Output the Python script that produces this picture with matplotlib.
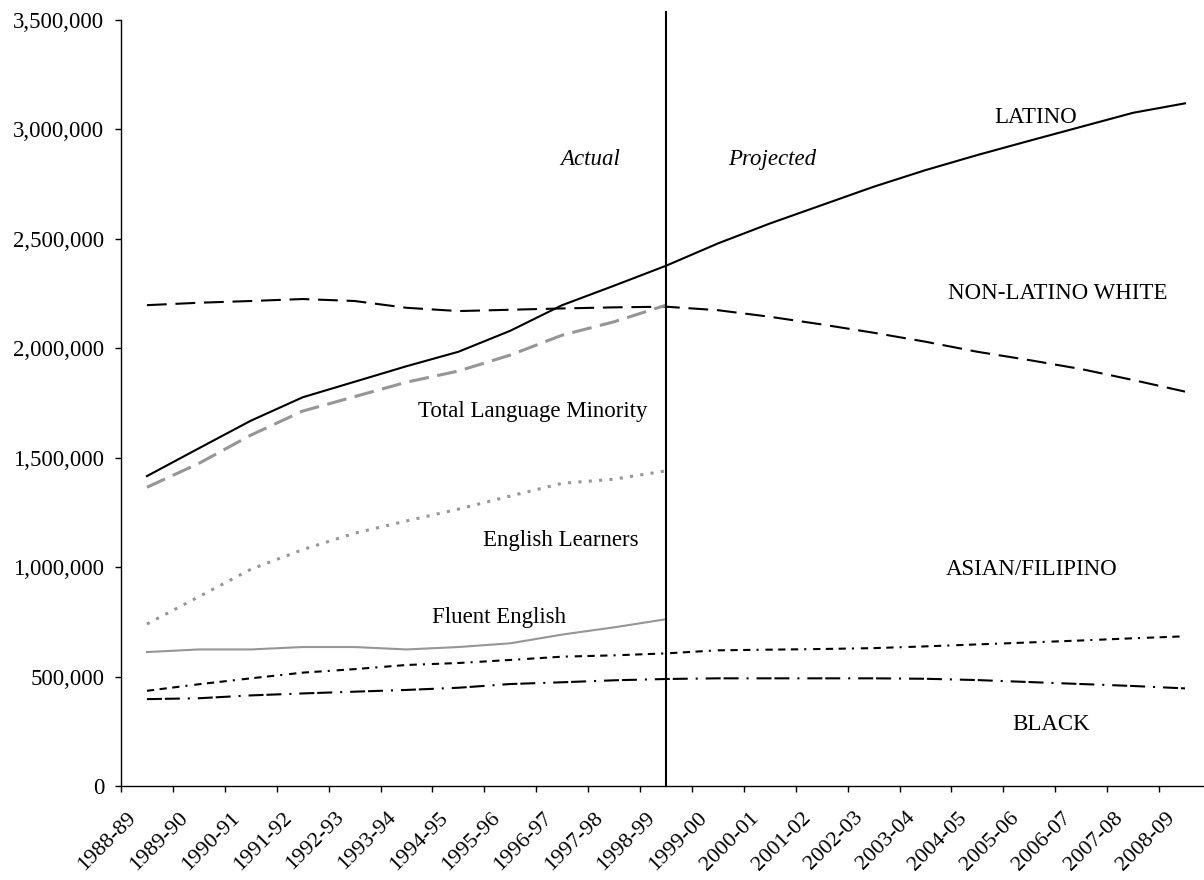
import matplotlib
matplotlib.use('Agg')
import matplotlib.pyplot as plt
import matplotlib.transforms as mtransforms
from matplotlib.ticker import FuncFormatter, FixedLocator

plt.rcParams['font.family'] = ['Liberation Serif', 'DejaVu Serif']
plt.rcParams['font.size'] = 16.5

years = ['1988-89', '1989-90', '1990-91', '1991-92', '1992-93', '1993-94',
         '1994-95', '1995-96', '1996-97', '1997-98', '1998-99', '1999-00',
         '2000-01', '2001-02', '2002-03', '2003-04', '2004-05', '2005-06',
         '2006-07', '2007-08', '2008-09']

# ethnic groups, actual + projected
latino = [1416000, 1543000, 1669000, 1776000, 1847000, 1918000, 1984000,
          2080000, 2197000, 2286000, 2377000, 2479000, 2570000, 2654000,
          2738000, 2814000, 2883000, 2948000, 3012000, 3076000, 3119000]
non_latino_white = [2197000, 2208000, 2216000, 2225000, 2216000, 2185000,
                    2170000, 2176000, 2182000, 2187000, 2190000, 2174000,
                    2144000, 2109000, 2071000, 2030000, 1984000, 1946000,
                    1905000, 1855000, 1802000]
asian_filipino = [435000, 465000, 492000, 518000, 534000, 553000, 562000,
                  576000, 591000, 597000, 606000, 620000, 623000, 626000,
                  630000, 638000, 647000, 656000, 665000, 675000, 684000]
black = [397000, 401000, 414000, 423000, 431000, 439000, 449000, 466000,
         474000, 483000, 489000, 492000, 492000, 492000, 492000, 490000,
         484000, 475000, 466000, 457000, 446000]

# language groups, actual only (1988-89 .. 1998-99)
total_lang_minority = [1365000, 1474000, 1603000, 1713000, 1779000, 1845000,
                       1896000, 1969000, 2060000, 2121000, 2197000]
english_learners = [740000, 865000, 990000, 1080000, 1155000, 1211000,
                    1265000, 1325000, 1383000, 1402000, 1440000]
fluent_english = [612000, 624000, 624000, 635000, 635000, 624000, 635000,
                  652000, 692000, 725000, 762000]

gray = '#969696'

fig = plt.figure(figsize=(12.04, 8.80), dpi=100)
ax = fig.add_axes([0.1005, 0.1068, 0.9053, 0.8705])

x_all = list(range(len(years)))
x_act = list(range(len(total_lang_minority)))

ax.plot(x_all, latino, color='black', lw=1.5, solid_joinstyle='round')
ax.plot(x_all, non_latino_white, color='black', lw=1.5, dashes=(9.5, 4.2))
ax.plot(x_all, asian_filipino, color='black', lw=1.5,
        dashes=(3.5, 2.6, 3.5, 2.6, 3.5, 2.9, 1, 3.3))
ax.plot(x_all, black, color='black', lw=1.5,
        dashes=(7.2, 1.4, 7.2, 3.8, 1, 3.8))
ax.plot(x_act, total_lang_minority, color=gray, lw=2.2, dashes=(6.5, 2.8))
ax.plot(x_act, english_learners, color=gray, lw=2.2, dashes=(1.0, 2.4))
ax.plot(x_act, fluent_english, color=gray, lw=1.5)

# actual / projected divider
ax.axvline(10, ymin=0, ymax=1.01, color='black', lw=1.5, clip_on=False)

ax.set_xlim(-0.5, len(years) - 0.5)
ax.set_ylim(0, 3500000)

ax.yaxis.set_major_locator(FixedLocator([i * 500000 for i in range(8)]))
ax.yaxis.set_major_formatter(FuncFormatter(lambda v, p: '{:,.0f}'.format(v)))
ax.tick_params(axis='y', direction='out', length=4, width=1, pad=8)

ax.set_xticks([i - 0.5 for i in range(len(years) + 1)])
ax.set_xticklabels([])
ax.set_xticks(x_all, minor=True)
ax.set_xticklabels(years, minor=True, rotation=45, ha='right', va='top',
                   rotation_mode='anchor', fontsize=16)
ax.tick_params(axis='x', which='major', direction='out', length=4, width=1)
ax.tick_params(axis='x', which='minor', length=0, pad=16)
offset = mtransforms.ScaledTranslation(-0.2, 0, fig.dpi_scale_trans)
for lab in ax.get_xticklabels(minor=True):
    lab.set_transform(lab.get_transform() + offset)

for s in ['top', 'right']:
    ax.spines[s].set_visible(False)
ax.spines['left'].set_linewidth(1)
ax.spines['bottom'].set_linewidth(1)

ax.text(8.54, 2864000, 'Actual', style='italic', ha='center', va='center')
ax.text(12.05, 2864000, 'Projected', style='italic', ha='center', va='center')
ax.text(17.13, 3056000, 'LATINO', ha='center', va='center')
ax.text(17.54, 2252000, 'NON-LATINO WHITE', ha='center', va='center')
ax.text(7.43, 1713000, 'Total Language Minority', ha='center', va='center')
ax.text(7.98, 1124000, 'English Learners', ha='center', va='center')
ax.text(6.79, 772000, 'Fluent English', ha='center', va='center')
ax.text(17.04, 991000, 'ASIAN/FILIPINO', ha='center', va='center')
ax.text(17.42, 279000, 'BLACK', ha='center', va='center')

fig.savefig('out.png', dpi=100)
